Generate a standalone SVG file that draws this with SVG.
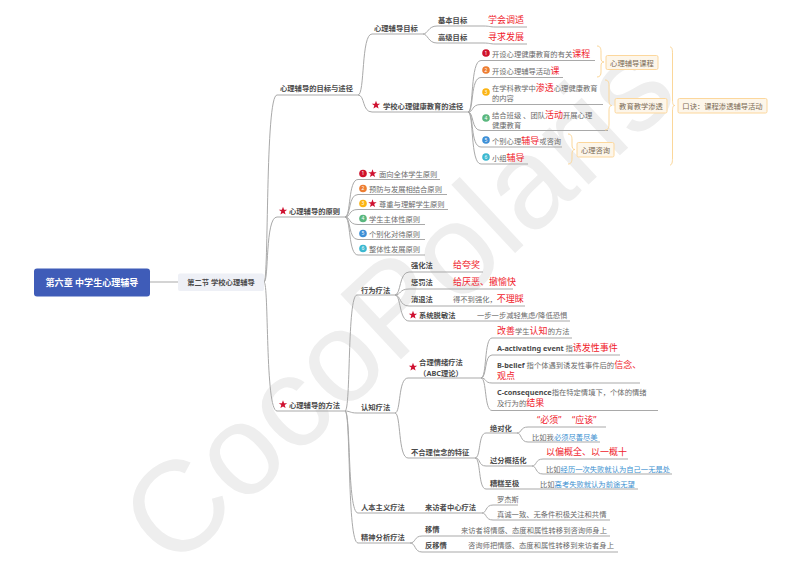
<svg xmlns="http://www.w3.org/2000/svg" width="800" height="566" viewBox="0 0 800 566">
<style>
text{font-family:"Noto Sans","Noto Sans CJK SC",sans-serif;font-size:7.3px;fill:#6a6a6a}
.wm{font-family:"Liberation Sans",sans-serif;font-size:129px;fill:#eeeeee}
.root{font-size:9.05px;font-weight:700;fill:#fff}
.b{font-weight:700;fill:#4a4a4a}
.c{text-anchor:middle}
.r{fill:#f0222c;font-size:9px}
.s{fill:#3a8fd0}
.n{font-size:5px;fill:#fff;text-anchor:middle}
.l{fill:none;stroke:#a9a9a9;stroke-width:1}
.br{fill:none;stroke:#fbd79a;stroke-width:1}
.bx{fill:#fdf6ea;stroke:#fcd79c;stroke-width:1}
.t{fill:#7a6a55}
</style>
<defs>
<path id="star" d="M0-4.2 1.1-1.3 4.2-1.3 1.7.6 2.6 3.6 0 1.9-2.6 3.6-1.7.6-4.2-1.3-1.1-1.3Z" fill="#cf1130"/>
<clipPath id="wmclip"><rect x="0" y="0" width="800" height="557"/></clipPath>
</defs>
<g clip-path="url(#wmclip)"><text class="wm" transform="translate(173 572) rotate(-43)">CocoPolaris</text></g>
<g id="connectors">
<path class="l" d="M150 282H178"/>
<path class="l" d="M264 282C269 282 265 95 277 95H358"/>
<path class="l" d="M264 282C269 282 265 217 277 217H345"/>
<path class="l" d="M264 282C269 282 265 411 277 411H345"/>
<path class="l" d="M358 95C365 95 361 34 372 34H423"/>
<path class="l" d="M358 95C365 95 362 112 372 112H468"/>
<path class="l" d="M423 34C428 34 428 26 437 26H483C490 26 490 27 495 27H527"/>
<path class="l" d="M423 34C428 34 428 43 437 43H483C490 43 490 44 495 44H527"/>
<path class="l" d="M468 112C474 112 470 60.500 481 60.500H595"/>
<path class="l" d="M468 112C474 112 470 77.500 481 77.500H563"/>
<path class="l" d="M468 112C474 112 471 104.500 481 104.500H603"/>
<path class="l" d="M468 112C474 112 471 130.500 481 130.500H608"/>
<path class="l" d="M468 112C474 112 470 147 481 147H562"/>
<path class="l" d="M468 112C474 112 470 164 481 164H528"/>
<path class="l" d="M345 217C351 217 348 179.500 358 179.500H440"/>
<path class="l" d="M345 217C351 217 348 194.500 358 194.500H447"/>
<path class="l" d="M345 217C351 217 348 209.500 358 209.500H448"/>
<path class="l" d="M345 217C351 217 348 224.500 358 224.500H425"/>
<path class="l" d="M345 217C351 217 348 239.500 358 239.500H425"/>
<path class="l" d="M345 217C351 217 348 255 358 255H425"/>
<path class="l" d="M345 411C351 411 347 295 357 295H395"/>
<path class="l" d="M345 411C350 411 350 413 357 413H395"/>
<path class="l" d="M345 411C351 411 347 513 358 513H482"/>
<path class="l" d="M345 411C351 411 347 543 358 543H410"/>
<path class="l" d="M395 295C401 295 399 272 409 272H483"/>
<path class="l" d="M395 295C401 295 399 289 409 289H513"/>
<path class="l" d="M395 295C401 295 399 306 409 306H525"/>
<path class="l" d="M395 295C401 295 399 321 409 321H570"/>
<path class="l" d="M395 413C401 413 398 378 408 378H481"/>
<path class="l" d="M395 413C401 413 398 458 408 458H475"/>
<path class="l" d="M481 378C487 378 484 338 492 338H572"/>
<path class="l" d="M481 378C487 378 484 355 492 355H620"/>
<path class="l" d="M481 378C487 378 484 383 492 383H640"/>
<path class="l" d="M481 378C487 378 484 410.500 492 410.500H658"/>
<path class="l" d="M475 458C481 458 478 433 486 433H517"/>
<path class="l" d="M475 458C481 458 478 466 486 466H532"/>
<path class="l" d="M475 458C481 458 478 489 486 489H638"/>
<path class="l" d="M517 433C522 433 520 427 528 427H606"/>
<path class="l" d="M517 433C522 433 520 442 528 442H600"/>
<path class="l" d="M532 466C537 466 535 459 543 459H628"/>
<path class="l" d="M532 466C537 466 535 474 543 474H672"/>
<path class="l" d="M482 513C487 513 485 505 493 505H518"/>
<path class="l" d="M482 513C487 513 485 520 493 520H610"/>
<path class="l" d="M410 543C416 543 414 536 422 536H610"/>
<path class="l" d="M410 543C416 543 414 552 422 552H618"/>
<path class="br" d="M597 46C600 46 601 48 601 52V58C601 61 602 62 604 62C602 62 601 63 601 66V72C601 75 600 77 597 77"/>
<path class="br" d="M605 80C608 80 609 82 609 86V100C609 104 610 105.500 612 105.500C610 105.500 609 107 609 111V124C609 128 608 130 605 130"/>
<path class="br" d="M568 134C571 134 572 136 572 140V145C572 148 573 149.500 575 149.500C573 149.500 572 151 572 154V158C572 162 571 164 568 164"/>
<path class="br" d="M670 47C672 47 672.500 49 672.500 54V100C672.500 104 673 105.500 675 105.500C673 105.500 672.500 107 672.500 111V158C672.500 162 672 165 670 165"/>
</g>
<g id="root"><rect x="34" y="268.500" width="116" height="28" rx="3" fill="#3f5cb8"/><text class="root c" x="92" y="285.500">第六章 中学生心理辅导</text></g>
<g id="section"><rect x="178" y="273.500" width="86" height="17.500" rx="2" fill="#eef0f6"/><text class="b c" x="221" y="285">第二节 学校心理辅导</text></g>
<g id="goal-path"><text class="b" x="280" y="91">心理辅导的目标与途径</text></g>
<g id="goal"><text class="b" x="374" y="31">心理辅导目标</text></g>
<g id="goal-basic"><text class="b" x="438" y="23">基本目标</text><text class="r" x="488" y="23">学会调适</text></g>
<g id="goal-high"><text class="b" x="438" y="40">高级目标</text><text class="r" x="488" y="40">寻求发展</text></g>
<g id="school"><use href="#star" x="376" y="105"/><text class="b" x="383" y="108.500">学校心理健康教育的途径</text></g>
<g id="s1"><circle cx="486" cy="53" r="3.800" fill="#d0112b"/><text class="n" x="486" y="54.800">1</text><text x="492" y="57">开设心理健康教育的有关<tspan class="r">课程</tspan></text></g>
<g id="s2"><circle cx="486" cy="70" r="3.800" fill="#ed7d31"/><text class="n" x="486" y="71.800">2</text><text x="492" y="74">开设心理辅导活动<tspan class="r">课</tspan></text></g>
<g id="s3"><circle cx="486" cy="92" r="3.800" fill="#fbb414"/><text class="n" x="486" y="93.800">3</text><text x="492" y="91">在学科教学中<tspan class="r">渗透</tspan>心理健康教育</text><text x="492" y="101">的内容</text></g>
<g id="s4"><circle cx="486" cy="118" r="3.800" fill="#5ab77e"/><text class="n" x="486" y="119.800">4</text><text x="492" y="117.500">结合班级 、团队<tspan class="r">活动</tspan>开展心理</text><text x="492" y="127.500">健康教育</text></g>
<g id="s5"><circle cx="486" cy="140" r="3.800" fill="#3d8fd6"/><text class="n" x="486" y="141.800">5</text><text x="492" y="144">个别心理<tspan class="r">辅导</tspan>或咨询</text></g>
<g id="s6"><circle cx="486" cy="157" r="3.800" fill="#3cb8d0"/><text class="n" x="486" y="158.800">6</text><text x="492" y="161">小组<tspan class="r">辅导</tspan></text></g>
<g id="tag1"><rect class="bx" x="606" y="55.500" width="52" height="14" rx="1.500"/><text class="t c" x="632" y="65.500">心理辅导课程</text></g>
<g id="tag2"><rect class="bx" x="615" y="98.500" width="52" height="14.500" rx="1.500"/><text class="t c" x="641" y="108.500">教育教学渗透</text></g>
<g id="tag3"><rect class="bx" x="577" y="142.500" width="37" height="14.500" rx="1.500"/><text class="t c" x="595.500" y="152.500">心理咨询</text></g>
<g id="tag4"><rect class="bx" x="678" y="98.500" width="89" height="14.500" rx="1.500"/><text class="t c" x="722.500" y="108.500">口诀：课程渗透辅导活动</text></g>
<g id="principle"><use href="#star" x="283" y="211"/><text class="b" x="289" y="214">心理辅导的原则</text></g>
<g id="p1"><circle cx="363" cy="173.500" r="3.800" fill="#d0112b"/><text class="n" x="363" y="175.300">1</text><use href="#star" x="372.500" y="173.500"/><text x="379" y="176.500">面向全体学生原则</text></g>
<g id="p2"><circle cx="363" cy="188.500" r="3.800" fill="#ed7d31"/><text class="n" x="363" y="190.300">2</text><text x="369" y="191.500">预防与发展相结合原则</text></g>
<g id="p3"><circle cx="363" cy="203.500" r="3.800" fill="#fbb414"/><text class="n" x="363" y="205.300">3</text><use href="#star" x="372.500" y="203.500"/><text x="379" y="206.500">尊重与理解学生原则</text></g>
<g id="p4"><circle cx="363" cy="218.500" r="3.800" fill="#5ab77e"/><text class="n" x="363" y="220.300">4</text><text x="369" y="221.500">学生主体性原则</text></g>
<g id="p5"><circle cx="363" cy="233.500" r="3.800" fill="#3d8fd6"/><text class="n" x="363" y="235.300">5</text><text x="369" y="236.500">个别化对待原则</text></g>
<g id="p6"><circle cx="363" cy="248.500" r="3.800" fill="#3cb8d0"/><text class="n" x="363" y="250.300">6</text><text x="369" y="251.500">整体性发展原则</text></g>
<g id="method"><use href="#star" x="283" y="404.500"/><text class="b" x="289" y="407.500">心理辅导的方法</text></g>
<g id="behavior"><text class="b" x="361" y="292.500">行为疗法</text></g>
<g id="b1"><text class="b" x="411" y="268">强化法</text><text class="r" x="453" y="268">给夸奖</text></g>
<g id="b2"><text class="b" x="411" y="285">惩罚法</text><text class="r" x="453" y="285">给厌恶、撤愉快</text></g>
<g id="b3"><text class="b" x="411" y="302">消退法</text><text x="453" y="302">得不到强化，<tspan class="r">不理睬</tspan></text></g>
<g id="b4"><use href="#star" x="413" y="315"/><text class="b" x="419" y="318">系统脱敏法</text><text x="477" y="318">一步一步减轻焦虑/降低恐惧</text></g>
<g id="cognitive"><text class="b" x="361" y="410">认知疗法</text></g>
<g id="abc"><use href="#star" x="413" y="367"/><text class="b c" x="441" y="365">合理情绪疗法</text><text class="b c" x="441" y="375.500">（ABC理论）</text></g>
<g id="abc0"><text x="497" y="334"><tspan class="r">改善</tspan>学生<tspan class="r">认知</tspan>的方法</text></g>
<g id="abc1"><text x="497" y="351"><tspan class="b">A-activating event</tspan> 指<tspan class="r">诱发性事件</tspan></text></g>
<g id="abc2"><text x="497" y="368"><tspan class="b">B-belief</tspan> 指个体遇到诱发性事件后的<tspan class="r">信念、</tspan></text><text class="r" x="497" y="379">观点</text></g>
<g id="abc3"><text x="497" y="395"><tspan class="b">C-consequence</tspan>指在特定情境下，个体的情绪</text><text x="497" y="406">及行为的<tspan class="r">结果</tspan></text></g>
<g id="irr"><text class="b" x="411" y="455">不合理信念的特征</text></g>
<g id="i1"><text class="b" x="490" y="431">绝对化</text></g>
<g id="i1a"><text class="r" x="537" y="423">“必须”<tspan x="572">“应该”</tspan></text></g>
<g id="i1b"><text x="532" y="439.500">比如我<tspan class="s">必须尽善尽美</tspan></text></g>
<g id="i2"><text class="b" x="490" y="463">过分概括化</text></g>
<g id="i2a"><text class="r" x="546" y="455">以偏概全、以一概十</text></g>
<g id="i2b"><text x="546" y="471.500">比如<tspan class="s">经历一次失败就认为自己一无是处</tspan></text></g>
<g id="i3"><text class="b" x="490" y="486">糟糕至极</text><text x="540" y="487">比如<tspan class="s">高考失败就认为前途无望</tspan></text></g>
<g id="human"><text class="b" x="361" y="510">人本主义疗法</text><text class="b" x="425" y="510">来访者中心疗法</text></g>
<g id="h1"><text x="497" y="502">罗杰斯</text></g>
<g id="h2"><text x="497" y="517">真诚一致、无条件积极关注和共情</text></g>
<g id="psycho"><text class="b" x="361" y="540">精神分析疗法</text></g>
<g id="t1"><text class="b" x="425" y="532">移情</text><text x="461" y="533">来访者将情感、态度和属性转移到咨询师身上</text></g>
<g id="t2"><text class="b" x="425" y="548">反移情</text><text x="468" y="548">咨询师把情感、态度和属性转移到来访者身上</text></g>
</svg>
